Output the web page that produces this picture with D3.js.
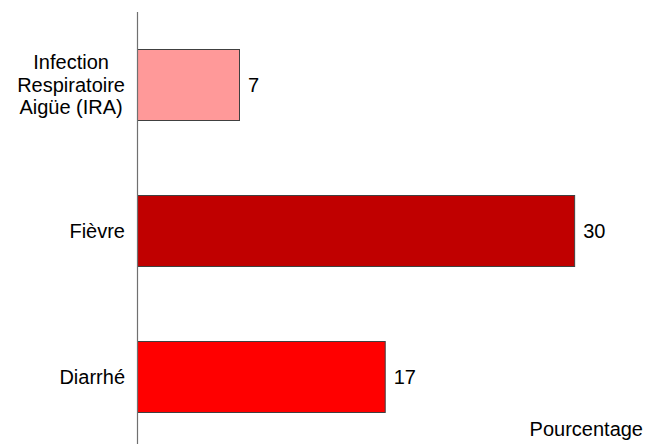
<!DOCTYPE html>
<html>
<head>
<meta charset="utf-8">
<script src="https://cdn.jsdelivr.net/npm/d3@7"></script>
<style>
  html, body { margin: 0; padding: 0; background: #fff; }
  svg { display: block; }
  text { font-family: "Liberation Sans", Arial, sans-serif; fill: #000; }
</style>
</head>
<body>
<script>
const categories = [["Infection", "Respiratoire", "Aigüe (IRA)"], ["Fièvre"], ["Diarrhé"]];
const values = [7, 30, 17];
const colors = ["#FF9999", "#C00000", "#FF0000"];
const axisTitle = "Pourcentage";

const W = 648, H = 444;
const fontSize = 20;
const svg = d3.select("body").append("svg").attr("width", W).attr("height", H);

const x = d3.scaleLinear().domain([0, 35]).range([137, 647]);
const y = d3.scaleBand().domain(d3.range(categories.length)).range([11.5, 449.5])
  .paddingInner(0.514).paddingOuter(0.257);

// bars
svg.selectAll("rect.bar").data(values).enter().append("rect")
  .attr("class", "bar")
  .attr("x", x(0) + 0.5)
  .attr("y", (d, i) => Math.round(y(i)) + 0.5)
  .attr("width", d => x(d) - x(0))
  .attr("height", Math.round(y.bandwidth()))
  .attr("fill", (d, i) => colors[i])
  .attr("stroke", "#404040")
  .attr("stroke-width", 1);

// axis line
svg.append("line")
  .attr("x1", x(0) + 0.5).attr("x2", x(0) + 0.5)
  .attr("y1", 12).attr("y2", H)
  .attr("stroke", "#707070").attr("stroke-width", 1.2);

// value labels
svg.selectAll("text.val").data(values).enter().append("text")
  .attr("class", "val")
  .attr("x", d => x(d) + 9)
  .attr("y", (d, i) => y(i) + y.bandwidth() / 2)
  .attr("dy", "0.35em")
  .attr("font-size", fontSize)
  .text(d => d);

// category labels
const lineH = 22.5;
const rightEdge = 125;
categories.forEach((lines, i) => {
  const cy = y(i) + y.bandwidth() / 2;
  const g = svg.append("g");
  const texts = g.selectAll("text").data(lines).enter().append("text")
    .attr("font-size", fontSize)
    .attr("y", (d, j) => cy + (j - (lines.length - 1) / 2) * lineH)
    .attr("dy", "0.35em")
    .attr("text-anchor", "middle")
    .text(d => d);
  let maxW = 0;
  texts.each(function () { maxW = Math.max(maxW, this.getComputedTextLength()); });
  texts.attr("x", rightEdge - maxW / 2);
});

// axis title
svg.append("text")
  .attr("x", 643).attr("y", 436)
  .attr("text-anchor", "end")
  .attr("font-size", fontSize)
  .text(axisTitle);
</script>
</body>
</html>
